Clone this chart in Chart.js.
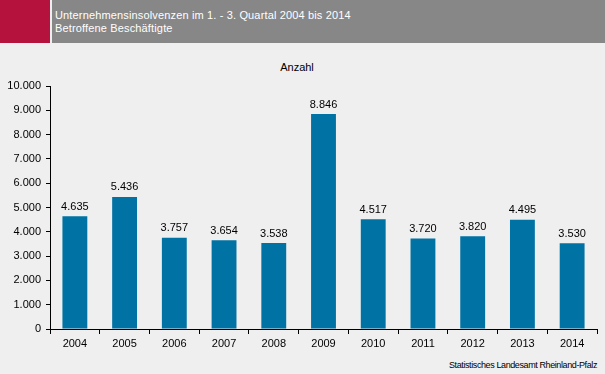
<!DOCTYPE html>
<html>
<head>
<meta charset="utf-8">
<script src="https://cdn.jsdelivr.net/npm/chart.js@4/dist/chart.umd.min.js"></script>
<style>
  html, body { margin: 0; padding: 0; }
  body { width: 605px; height: 374px; background: #EEEFEE; position: relative; overflow: hidden; font-family: "Liberation Sans", Arial, sans-serif; }
  #red { position: absolute; left: 0; top: 0; width: 50px; height: 43px; background: #B5123D; }
  #band { position: absolute; left: 52px; top: 0; width: 553px; height: 43px; background: #878787; }
  #title { position: absolute; left: 55px; top: 9px; color: #fff; font-size: 11px; line-height: 13px; letter-spacing: 0.15px; }
  #unit { position: absolute; left: 0; width: 594px; top: 61px; text-align: center; font-size: 11px; color: #000; }
  #source { position: absolute; right: 8px; top: 360px; font-size: 9px; letter-spacing: -0.4px; color: #000; }
  #wrap { position: absolute; left: 0; top: 0; width: 605px; height: 374px; }
</style>
</head>
<body>
<div id="red"></div>
<div id="band"></div>
<div id="title">Unternehmensinsolvenzen im 1. - 3. Quartal 2004 bis 2014<br>Betroffene Beschäftigte</div>
<div id="unit">Anzahl</div>
<div id="source">Statistisches Landesamt Rheinland-Pfalz</div>
<div id="wrap"><canvas id="c" width="605" height="374"></canvas></div>
<script>
const categories = ["2004","2005","2006","2007","2008","2009","2010","2011","2012","2013","2014"];
const employees = [4635, 5436, 3757, 3654, 3538, 8846, 4517, 3720, 3820, 4495, 3530];
const yTicks = [0,1000,2000,3000,4000,5000,6000,7000,8000,9000,10000];

function fmt(v) { return String(v).replace(/\B(?=(\d{3})+(?!\d))/g, "."); }

const valueLabels = {
  id: 'valueLabels',
  afterDatasetsDraw(chart) {
    const ctx = chart.ctx;
    const meta = chart.getDatasetMeta(0);
    ctx.save();
    ctx.font = '11px "Liberation Sans", Arial, sans-serif';
    ctx.fillStyle = '#000';
    ctx.textAlign = 'center';
    ctx.textBaseline = 'bottom';
    meta.data.forEach((bar, i) => {
      ctx.fillText(fmt(employees[i]), bar.x, bar.y - 4);
    });
    ctx.restore();
  }
};

new Chart(document.getElementById('c'), {
  type: 'bar',
  data: {
    labels: categories,
    datasets: [{
      data: employees,
      backgroundColor: '#0072A3',
      barPercentage: 0.5,
      categoryPercentage: 1.0
    }]
  },
  options: {
    responsive: false,
    animation: false,
    layout: { padding: { left: 0, top: 86, right: 8, bottom: 0 } },
    plugins: { legend: { display: false }, tooltip: { enabled: false }, title: { display: false } },
    scales: {
      x: {
        grid: { display: true, drawOnChartArea: false, drawTicks: true, tickLength: 5, color: '#000', offset: true },
        border: { display: true, color: '#000', width: 1 },
        ticks: { color: '#000', font: { size: 11, family: '"Liberation Sans", Arial, sans-serif' }, padding: 3, maxRotation: 0 },
        afterFit(s) { s.height = 45; }
      },
      y: {
        min: 0, max: 10000,
        afterBuildTicks(s) { s.ticks = yTicks.map(v => ({ value: v })); },
        grid: { display: true, drawOnChartArea: false, drawTicks: true, tickLength: 4, color: '#000' },
        border: { display: true, color: '#000', width: 1 },
        ticks: { color: '#000', font: { size: 11, family: '"Liberation Sans", Arial, sans-serif' }, padding: 5, callback: v => fmt(v) },
        afterFit(s) { s.width = 50; }
      }
    }
  },
  plugins: [valueLabels]
});
</script>
</body>
</html>
